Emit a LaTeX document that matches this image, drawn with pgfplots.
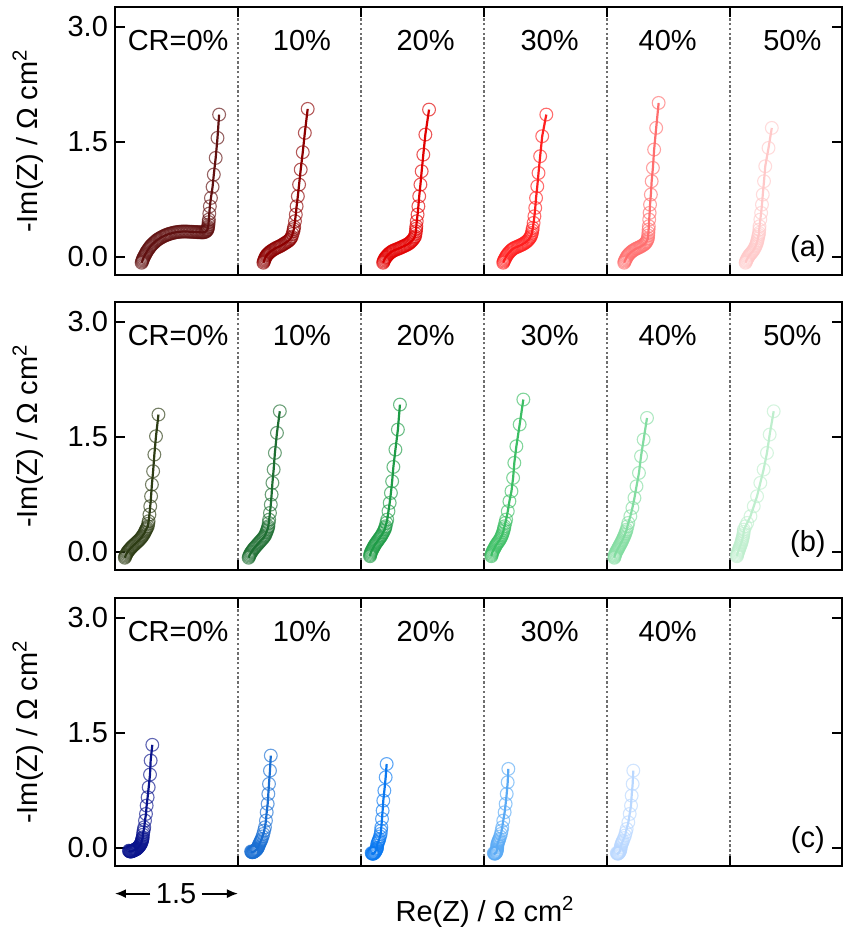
\documentclass[border=0pt]{standalone}
\usepackage{pgfplots}
\pgfplotsset{compat=1.18}
\usepackage{fontspec}
\setmainfont{Liberation Sans}
\setsansfont{Liberation Sans}
\usetikzlibrary{arrows.meta}

\definecolor{a0}{RGB}{96,16,16}
\definecolor{a1}{RGB}{140,0,0}
\definecolor{a2}{RGB}{225,0,0}
\definecolor{a3}{RGB}{255,30,30}
\definecolor{a4}{RGB}{255,110,110}
\definecolor{a5}{RGB}{255,200,200}
\definecolor{b0}{RGB}{45,60,20}
\definecolor{b1}{RGB}{30,110,50}
\definecolor{b2}{RGB}{30,155,70}
\definecolor{b3}{RGB}{60,190,100}
\definecolor{b4}{RGB}{130,220,160}
\definecolor{b5}{RGB}{190,238,205}
\definecolor{c0}{RGB}{10,20,140}
\definecolor{c1}{RGB}{25,110,210}
\definecolor{c2}{RGB}{10,120,240}
\definecolor{c3}{RGB}{90,170,245}
\definecolor{c4}{RGB}{185,215,255}
\definecolor{divgray}{RGB}{110,110,110}

\newcommand{\fs}{\fontsize{14.5}{17}\selectfont}

\pgfplotsset{
  panel/.style={
    width=363.5pt, height=134pt, scale only axis,
    xmin=0, xmax=8.866, ymin=-0.24, ymax=3.255,
    xtick={1.5,3,4.5,6,7.5}, xticklabels={},
    ytick={0,1.5,3},
    yticklabel={\pgfmathprintnumber[fixed,fixed zerofill,precision=1]{\tick}},
    /pgf/number format/assume math mode=true,
    tick align=inside, xtick pos=both, ytick pos=both, yticklabel pos=left,
    major tick length=5pt,
    every tick/.style={black, line width=1pt},
    axis line style={line width=1pt},
    xmajorgrids,
    major x grid style={divgray, line width=1.2pt, dash pattern=on 1.2pt off 1.2pt},
    clip=false,
    tick label style={font=\fs},
    label style={font=\fs},
    ylabel={-Im(Z) / Ω cm\textsuperscript{2}},
    ylabel style={at={(axis description cs:-0.12,0.5)}, anchor=center},
  },
  nyq/.style={color=#1, line width=1.1pt, mark=o, mark size=3.2pt,
    mark options={line width=0.55pt, draw opacity=0.65, solid}},
}

\begin{document}
\begin{tikzpicture}

%% ---------------- panel (a) ----------------
\begin{axis}[panel, at={(0pt,295.5pt)}, anchor=south west]
\addplot[nyq=a0] table[row sep=\\, header=false, x expr=\thisrowno{0}+0, y index=1] {
0.325 -0.08\\ 0.33 -0.065\\ 0.335 -0.05\\ 0.34 -0.035\\ 0.345 -0.02\\ 0.3525 -0.005\\ 0.36 0.01\\ 0.3675 0.025\\
0.375 0.04\\ 0.3825 0.055\\ 0.39 0.07\\ 0.40 0.085\\ 0.41 0.10\\ 0.42 0.115\\ 0.43 0.13\\ 0.44 0.1425\\
0.45 0.155\\ 0.4625 0.1675\\ 0.475 0.18\\ 0.4875 0.1925\\ 0.50 0.205\\ 0.5125 0.215\\ 0.525 0.225\\ 0.54 0.235\\
0.555 0.245\\ 0.57 0.2535\\ 0.585 0.262\\ 0.60 0.27\\ 0.615 0.277\\ 0.63 0.2835\\ 0.645 0.29\\ 0.66 0.295\\
0.675 0.30\\ 0.6925 0.305\\ 0.71 0.31\\ 0.7275 0.314\\ 0.745 0.318\\ 0.7625 0.3205\\ 0.78 0.323\\ 0.7975 0.3245\\
0.815 0.326\\ 0.8325 0.3265\\ 0.85 0.327\\ 0.8675 0.3265\\ 0.885 0.326\\ 0.9025 0.325\\ 0.92 0.324\\ 0.9375 0.323\\
0.955 0.322\\ 0.9725 0.321\\ 0.99 0.32\\ 1.005 0.319\\ 1.02 0.318\\ 1.035 0.317\\ 1.05 0.316\\ 1.0625 0.316\\
1.075 0.316\\ 1.0875 0.318\\ 1.10 0.322\\ 1.11 0.33\\ 1.12 0.338\\ 1.125 0.349\\ 1.13 0.36\\ 1.1325 0.375\\
1.135 0.39\\ 1.14 0.417\\ 1.142 0.45\\ 1.145 0.483\\ 1.15 0.561\\ 1.157 0.656\\ 1.17 0.765\\ 1.19 0.909\\
1.205 1.07\\ 1.228 1.287\\ 1.25 1.548\\ 1.27 1.852\\
};
\addplot[nyq=a1] table[row sep=\\, header=false, x expr=\thisrowno{0}+1.5, y index=1] {
0.31 -0.08\\ 0.315 -0.065\\ 0.32 -0.05\\ 0.325 -0.035\\ 0.33 -0.02\\ 0.3375 -0.005\\ 0.345 0.01\\ 0.3525 0.02\\
0.36 0.03\\ 0.37 0.04\\ 0.38 0.05\\ 0.39 0.06\\ 0.40 0.07\\ 0.415 0.08\\ 0.43 0.09\\ 0.445 0.10\\
0.46 0.11\\ 0.475 0.1175\\ 0.49 0.125\\ 0.505 0.1325\\ 0.52 0.14\\ 0.535 0.15\\ 0.55 0.16\\ 0.565 0.17\\
0.58 0.18\\ 0.595 0.19\\ 0.61 0.20\\ 0.6225 0.2125\\ 0.635 0.225\\ 0.645 0.2425\\ 0.655 0.26\\ 0.665 0.295\\
0.675 0.33\\ 0.68 0.358\\ 0.685 0.387\\ 0.695 0.461\\ 0.705 0.548\\ 0.715 0.656\\ 0.73 0.787\\ 0.745 0.939\\
0.765 1.135\\ 0.79 1.361\\ 0.815 1.613\\ 0.85 1.926\\
};
\addplot[nyq=a2] table[row sep=\\, header=false, x expr=\thisrowno{0}+3, y index=1] {
0.27 -0.08\\ 0.275 -0.065\\ 0.28 -0.05\\ 0.2875 -0.035\\ 0.295 -0.02\\ 0.3025 -0.01\\ 0.31 0.0\\ 0.32 0.0125\\
0.33 0.025\\ 0.34 0.035\\ 0.35 0.045\\ 0.3625 0.055\\ 0.375 0.065\\ 0.3875 0.0725\\ 0.40 0.08\\ 0.4175 0.0875\\
0.435 0.095\\ 0.4525 0.1025\\ 0.47 0.11\\ 0.485 0.1175\\ 0.50 0.125\\ 0.515 0.1325\\ 0.53 0.14\\ 0.545 0.1475\\
0.56 0.155\\ 0.575 0.165\\ 0.59 0.175\\ 0.6025 0.1875\\ 0.615 0.2\\ 0.6275 0.215\\ 0.64 0.23\\ 0.65 0.2475\\
0.66 0.265\\ 0.665 0.2975\\ 0.67 0.33\\ 0.6725 0.363\\ 0.675 0.396\\ 0.68 0.461\\ 0.69 0.548\\ 0.70 0.656\\
0.71 0.787\\ 0.725 0.939\\ 0.74 1.113\\ 0.76 1.33\\ 0.785 1.591\\ 0.83 1.917\\
};
\addplot[nyq=a3] table[row sep=\\, header=false, x expr=\thisrowno{0}+4.5, y index=1] {
0.235 -0.08\\ 0.24 -0.065\\ 0.245 -0.05\\ 0.2525 -0.035\\ 0.26 -0.02\\ 0.2675 -0.005\\ 0.275 0.01\\ 0.285 0.025\\
0.295 0.04\\ 0.3075 0.055\\ 0.32 0.07\\ 0.3325 0.0825\\ 0.345 0.095\\ 0.36 0.105\\ 0.375 0.115\\ 0.3925 0.1225\\
0.41 0.13\\ 0.425 0.1375\\ 0.44 0.145\\ 0.455 0.1525\\ 0.47 0.16\\ 0.485 0.17\\ 0.50 0.18\\ 0.5125 0.19\\
0.525 0.20\\ 0.5375 0.215\\ 0.55 0.23\\ 0.56 0.245\\ 0.57 0.26\\ 0.5775 0.2845\\ 0.585 0.309\\ 0.59 0.3415\\
0.595 0.374\\ 0.605 0.439\\ 0.615 0.526\\ 0.625 0.635\\ 0.635 0.765\\ 0.65 0.917\\
0.665 1.09\\ 0.685 1.309\\ 0.71 1.57\\ 0.76 1.852\\
};
\addplot[nyq=a4] table[row sep=\\, header=false, x expr=\thisrowno{0}+6, y index=1] {
0.21 -0.08\\ 0.215 -0.065\\ 0.22 -0.05\\ 0.2275 -0.035\\ 0.235 -0.02\\ 0.2425 -0.005\\ 0.25 0.01\\ 0.26 0.0225\\
0.27 0.035\\ 0.2825 0.0475\\ 0.295 0.06\\ 0.3075 0.07\\ 0.32 0.08\\ 0.335 0.09\\ 0.35 0.10\\ 0.365 0.1075\\
0.38 0.115\\ 0.395 0.1225\\ 0.41 0.13\\ 0.425 0.14\\ 0.44 0.15\\ 0.4525 0.16\\ 0.465 0.17\\ 0.475 0.185\\
0.485 0.20\\ 0.4925 0.22\\ 0.50 0.24\\ 0.5025 0.2745\\ 0.505 0.309\\ 0.5075 0.3525\\ 0.51 0.396\\ 0.515 0.483\\
0.52 0.57\\ 0.525 0.678\\ 0.535 0.809\\ 0.545 0.983\\ 0.56 1.157\\ 0.575 1.396\\ 0.60 1.678\\ 0.63 2.004\\
};
\addplot[nyq=a5] table[row sep=\\, header=false, x expr=\thisrowno{0}+7.5, y index=1] {
0.19 -0.08\\ 0.195 -0.065\\ 0.20 -0.05\\ 0.2075 -0.035\\ 0.215 -0.02\\ 0.2225 -0.005\\ 0.23 0.01\\ 0.24 0.0225\\
0.25 0.035\\ 0.26 0.0475\\ 0.27 0.06\\ 0.28 0.075\\ 0.29 0.09\\ 0.30 0.11\\ 0.31 0.13\\ 0.3175 0.15\\
0.325 0.17\\ 0.33 0.19\\ 0.335 0.21\\ 0.34 0.235\\ 0.345 0.26\\ 0.35 0.2845\\ 0.355 0.309\\ 0.3575 0.3525\\
0.36 0.396\\ 0.37 0.483\\ 0.38 0.57\\ 0.39 0.678\\ 0.40 0.809\\ 0.415 0.983\\ 0.43 1.178\\ 0.47 1.417\\ 0.51 1.678\\
};
\node[font=\fs] at (axis cs:0.77,2.82) {CR=0\%};
\node[font=\fs] at (axis cs:2.28,2.82) {10\%};
\node[font=\fs] at (axis cs:3.787,2.82) {20\%};
\node[font=\fs] at (axis cs:5.30,2.82) {30\%};
\node[font=\fs] at (axis cs:6.74,2.82) {40\%};
\node[font=\fs] at (axis cs:8.26,2.82) {50\%};
\node[font=\fs] at (axis cs:8.45,0.1) {(a)};
\end{axis}

%% ---------------- panel (b) ----------------
\begin{axis}[panel, at={(0pt,148pt)}, anchor=south west]
\addplot[nyq=b0] table[row sep=\\, header=false, x expr=\thisrowno{0}+0, y index=1] {
0.12 -0.08\\ 0.125 -0.065\\ 0.13 -0.05\\ 0.1375 -0.035\\ 0.145 -0.02\\ 0.1525 -0.0075\\ 0.16 0.005\\ 0.17 0.0175\\
0.18 0.03\\ 0.19 0.0425\\ 0.20 0.055\\ 0.21 0.065\\ 0.22 0.075\\ 0.2325 0.0875\\ 0.245 0.10\\ 0.2575 0.1125\\
0.27 0.125\\ 0.2825 0.1375\\ 0.295 0.15\\ 0.3075 0.165\\ 0.32 0.18\\ 0.33 0.195\\ 0.34 0.21\\ 0.35 0.2275\\
0.36 0.245\\ 0.3675 0.2625\\ 0.375 0.28\\ 0.3825 0.295\\ 0.39 0.31\\ 0.40 0.33\\ 0.405 0.363\\ 0.41 0.396\\
0.42 0.483\\ 0.43 0.591\\ 0.44 0.722\\ 0.45 0.874\\ 0.465 1.048\\ 0.48 1.265\\ 0.50 1.504\\ 0.53 1.787\\
};
\addplot[nyq=b1] table[row sep=\\, header=false, x expr=\thisrowno{0}+1.5, y index=1] {
0.13 -0.08\\ 0.135 -0.065\\ 0.14 -0.05\\ 0.1475 -0.035\\ 0.155 -0.02\\ 0.1625 -0.0075\\ 0.17 0.005\\ 0.18 0.02\\
0.19 0.035\\ 0.20 0.0475\\ 0.21 0.06\\ 0.2225 0.075\\ 0.235 0.09\\ 0.2475 0.105\\ 0.26 0.12\\ 0.2725 0.135\\
0.285 0.15\\ 0.2975 0.165\\ 0.31 0.18\\ 0.32 0.195\\ 0.33 0.21\\ 0.3375 0.23\\ 0.345 0.25\\ 0.3525 0.27\\
0.36 0.29\\ 0.365 0.31\\ 0.37 0.33\\ 0.375 0.3735\\ 0.38 0.417\\ 0.39 0.504\\ 0.40 0.613\\ 0.41 0.743\\
0.42 0.896\\ 0.435 1.07\\ 0.45 1.287\\ 0.475 1.548\\ 0.51 1.83\\
};
\addplot[nyq=b2] table[row sep=\\, header=false, x expr=\thisrowno{0}+3, y index=1] {
0.11 -0.06\\ 0.1125 -0.045\\ 0.115 -0.03\\ 0.12 -0.015\\ 0.125 0.0\\ 0.1325 0.015\\ 0.14 0.03\\ 0.1475 0.045\\
0.155 0.06\\ 0.1625 0.075\\ 0.17 0.09\\ 0.18 0.105\\ 0.19 0.12\\ 0.20 0.135\\ 0.21 0.15\\ 0.22 0.165\\
0.23 0.18\\ 0.24 0.195\\ 0.25 0.21\\ 0.26 0.23\\ 0.27 0.25\\ 0.28 0.27\\ 0.29 0.29\\ 0.295 0.31\\
0.30 0.33\\ 0.31 0.3735\\ 0.32 0.417\\ 0.335 0.526\\ 0.35 0.635\\ 0.365 0.765\\ 0.38 0.917\\ 0.395 1.104\\
0.42 1.33\\ 0.45 1.591\\ 0.475 1.917\\
};
\addplot[nyq=b3] table[row sep=\\, header=false, x expr=\thisrowno{0}+4.5, y index=1] {
0.09 -0.06\\ 0.0925 -0.045\\ 0.095 -0.03\\ 0.10 -0.015\\ 0.105 0.0\\ 0.1125 0.015\\ 0.12 0.03\\ 0.1275 0.045\\
0.135 0.06\\ 0.1425 0.075\\ 0.15 0.09\\ 0.16 0.105\\ 0.17 0.12\\ 0.18 0.135\\ 0.19 0.15\\ 0.20 0.17\\
0.21 0.19\\ 0.2175 0.21\\ 0.225 0.23\\ 0.2325 0.255\\ 0.24 0.28\\ 0.245 0.305\\ 0.25 0.33\\ 0.26 0.3735\\
0.27 0.417\\ 0.29 0.526\\ 0.31 0.656\\ 0.335 0.787\\ 0.355 0.961\\ 0.37 1.157\\ 0.395 1.374\\ 0.435 1.657\\ 0.48 1.983\\
};
\addplot[nyq=b4] table[row sep=\\, header=false, x expr=\thisrowno{0}+6, y index=1] {
0.09 -0.08\\ 0.0925 -0.065\\ 0.095 -0.05\\ 0.10 -0.035\\ 0.105 -0.02\\ 0.1125 -0.005\\ 0.12 0.01\\ 0.1275 0.025\\
0.135 0.04\\ 0.1425 0.055\\ 0.15 0.07\\ 0.1575 0.085\\ 0.165 0.10\\ 0.1725 0.115\\ 0.18 0.13\\ 0.1875 0.1475\\
0.195 0.165\\ 0.2025 0.1825\\ 0.21 0.2\\ 0.2175 0.22\\ 0.225 0.24\\ 0.2325 0.2635\\ 0.24 0.287\\ 0.25 0.3305\\
0.26 0.374\\ 0.285 0.461\\ 0.31 0.57\\ 0.335 0.7\\ 0.36 0.852\\ 0.39 1.026\\ 0.415 1.243\\ 0.447 1.461\\ 0.488 1.743\\
};
\addplot[nyq=b5] table[row sep=\\, header=false, x expr=\thisrowno{0}+7.5, y index=1] {
0.085 -0.06\\ 0.0875 -0.045\\ 0.09 -0.03\\ 0.095 -0.015\\ 0.10 0.0\\ 0.105 0.015\\ 0.11 0.03\\ 0.115 0.045\\
0.12 0.06\\ 0.1275 0.08\\ 0.135 0.10\\ 0.14 0.12\\ 0.145 0.14\\ 0.15 0.16\\ 0.155 0.18\\ 0.16 0.205\\
0.165 0.23\\ 0.1675 0.2585\\ 0.17 0.287\\ 0.19 0.3305\\ 0.21 0.374\\ 0.25 0.461\\ 0.29 0.591\\ 0.33 0.722\\
0.37 0.896\\ 0.41 1.07\\ 0.451 1.287\\ 0.484 1.526\\ 0.533 1.83\\
};
\node[font=\fs] at (axis cs:0.77,2.82) {CR=0\%};
\node[font=\fs] at (axis cs:2.28,2.82) {10\%};
\node[font=\fs] at (axis cs:3.787,2.82) {20\%};
\node[font=\fs] at (axis cs:5.30,2.82) {30\%};
\node[font=\fs] at (axis cs:6.74,2.82) {40\%};
\node[font=\fs] at (axis cs:8.26,2.82) {50\%};
\node[font=\fs] at (axis cs:8.45,0.1) {(b)};
\end{axis}

%% ---------------- panel (c) ----------------
\begin{axis}[panel, at={(0pt,0pt)}, anchor=south west,
  xlabel={Re(Z) / Ω cm\textsuperscript{2}},
  xlabel style={at={(axis description cs:0.509,-0.172)}, anchor=center}]
\addplot[nyq=c0] table[row sep=\\, header=false, x expr=\thisrowno{0}+0, y index=1] {
0.17 -0.04\\ 0.175 -0.045\\ 0.18 -0.05\\ 0.185 -0.05\\ 0.19 -0.05\\ 0.195 -0.05\\ 0.20 -0.05\\ 0.205 -0.0475\\
0.21 -0.045\\ 0.215 -0.0425\\ 0.22 -0.04\\ 0.225 -0.0375\\ 0.23 -0.035\\ 0.235 -0.0325\\ 0.24 -0.03\\ 0.245 -0.0275\\
0.25 -0.025\\ 0.255 -0.0225\\ 0.26 -0.02\\ 0.265 -0.015\\ 0.27 -0.01\\ 0.275 -0.005\\ 0.28 0.0\\ 0.285 0.005\\
0.29 0.01\\ 0.295 0.0175\\ 0.30 0.025\\ 0.305 0.0325\\ 0.31 0.04\\ 0.315 0.05\\ 0.32 0.06\\ 0.324 0.0725\\
0.328 0.085\\ 0.3305 0.0975\\ 0.333 0.11\\ 0.3355 0.1225\\ 0.338 0.135\\ 0.3415 0.1675\\ 0.345 0.2\\ 0.351 0.2325\\
0.357 0.265\\ 0.366 0.352\\ 0.378 0.439\\ 0.386 0.548\\ 0.398 0.656\\ 0.411 0.787\\ 0.427 0.952\\ 0.435 1.135\\ 0.455 1.34\\
};
\addplot[nyq=c1] table[row sep=\\, header=false, x expr=\thisrowno{0}+1.5, y index=1] {
0.16 -0.05\\ 0.165 -0.055\\ 0.17 -0.06\\ 0.175 -0.06\\ 0.18 -0.06\\ 0.185 -0.0575\\ 0.19 -0.055\\ 0.195 -0.0525\\
0.20 -0.05\\ 0.205 -0.045\\ 0.21 -0.04\\ 0.215 -0.035\\ 0.22 -0.03\\ 0.225 -0.025\\ 0.23 -0.02\\ 0.235 -0.0125\\
0.24 -0.005\\ 0.245 0.0075\\ 0.25 0.02\\ 0.255 0.034\\ 0.26 0.048\\ 0.2675 0.064\\ 0.275 0.08\\ 0.282 0.0965\\
0.289 0.113\\ 0.299 0.1455\\ 0.309 0.178\\ 0.319 0.2215\\ 0.329 0.265\\ 0.341 0.352\\ 0.35 0.461\\ 0.362 0.57\\
0.37 0.7\\ 0.378 0.83\\ 0.39 1.004\\ 0.40 1.2\\
};
\addplot[nyq=c2] table[row sep=\\, header=false, x expr=\thisrowno{0}+3, y index=1] {
0.13 -0.07\\ 0.135 -0.075\\ 0.14 -0.08\\ 0.145 -0.08\\ 0.15 -0.08\\ 0.155 -0.075\\ 0.16 -0.07\\ 0.165 -0.065\\
0.17 -0.06\\ 0.175 -0.05\\ 0.18 -0.04\\ 0.185 -0.03\\ 0.19 -0.02\\ 0.1925 -0.01\\ 0.195 0.0\\ 0.197 0.024\\
0.199 0.048\\ 0.2055 0.064\\ 0.212 0.08\\ 0.2175 0.0965\\ 0.223 0.113\\ 0.2315 0.1455\\ 0.24 0.178\\ 0.244 0.2215\\
0.248 0.265\\ 0.256 0.374\\ 0.264 0.483\\ 0.272 0.613\\ 0.285 0.743\\ 0.301 0.917\\ 0.313 1.09\\
};
\addplot[nyq=c3] table[row sep=\\, header=false, x expr=\thisrowno{0}+4.5, y index=1] {
0.12 -0.07\\ 0.125 -0.075\\ 0.13 -0.08\\ 0.135 -0.0775\\ 0.14 -0.075\\ 0.145 -0.0675\\ 0.15 -0.06\\ 0.1525 -0.05\\
0.155 -0.04\\ 0.1575 -0.0275\\ 0.16 -0.015\\ 0.161 0.0025\\ 0.162 0.02\\ 0.163 0.034\\ 0.164 0.048\\ 0.1695 0.064\\
0.175 0.08\\ 0.181 0.0965\\ 0.187 0.113\\ 0.197 0.1455\\ 0.207 0.178\\ 0.215 0.2215\\ 0.223 0.265\\ 0.235 0.352\\
0.252 0.461\\ 0.264 0.57\\ 0.277 0.7\\ 0.289 0.852\\ 0.297 1.026\\
};
\addplot[nyq=c4] table[row sep=\\, header=false, x expr=\thisrowno{0}+6, y index=1] {
0.12 -0.07\\ 0.125 -0.075\\ 0.13 -0.08\\ 0.135 -0.0775\\ 0.14 -0.075\\ 0.145 -0.0675\\ 0.15 -0.06\\ 0.155 -0.05\\
0.16 -0.04\\ 0.1625 -0.0275\\ 0.165 -0.015\\ 0.168 0.0055\\ 0.171 0.026\\ 0.177 0.043\\ 0.183 0.06\\ 0.189 0.0755\\
0.195 0.091\\ 0.2075 0.124\\ 0.22 0.157\\ 0.23 0.2\\ 0.24 0.243\\ 0.26 0.33\\ 0.277 0.439\\ 0.293 0.548\\
0.301 0.678\\ 0.313 0.83\\ 0.321 1.004\\
};
\node[font=\fs] at (axis cs:0.77,2.82) {CR=0\%};
\node[font=\fs] at (axis cs:2.28,2.82) {10\%};
\node[font=\fs] at (axis cs:3.787,2.82) {20\%};
\node[font=\fs] at (axis cs:5.30,2.82) {30\%};
\node[font=\fs] at (axis cs:6.74,2.82) {40\%};
\node[font=\fs] at (axis cs:8.45,0.1) {(c)};
% scale bar
\draw[line width=0.9pt, -{Latex[length=5.5pt,width=4.5pt]}] (axis cs:0.43,-0.60) -- (axis cs:0.0,-0.60);
\draw[line width=0.9pt, -{Latex[length=5.5pt,width=4.5pt]}] (axis cs:1.06,-0.60) -- (axis cs:1.5,-0.60);
\node[font=\fs] at (axis cs:0.745,-0.60) {1.5};
\end{axis}

\pgfresetboundingbox
\useasboundingbox (-57.5pt,-35.5pt) rectangle (364pt,433pt);
\end{tikzpicture}
\end{document}
